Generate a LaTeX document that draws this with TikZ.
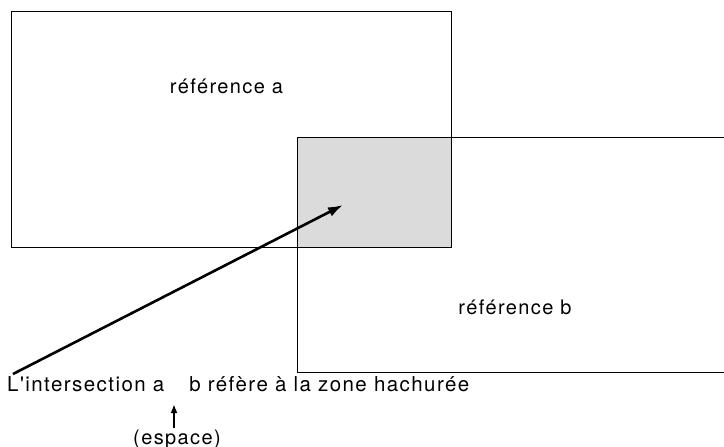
\documentclass[tikz,border=0pt]{standalone}
\usepackage{fontspec}
\setmainfont{TeX Gyre Heros}
\newfontfamily\lblfont[LetterSpace=7]{TeX Gyre Heros}
\usetikzlibrary{arrows.meta}
\begin{document}
\begin{tikzpicture}[x=1pt,y=-1pt,
  frame/.style={draw=black,line width=1pt},
  lbl/.style={font=\lblfont\fontsize{20}{22}\selectfont,inner sep=0pt},
  pointer/.style={line width=2.6pt,-{Latex[length=15pt,width=10pt]}}]
\useasboundingbox (0,0) rectangle (724,447);
\begin{scope}
\clip (0,0) rectangle (724,447);
\fill[black!14] (297,137) rectangle (451,247);
\draw[frame] (11,11) rectangle (451,247);
\draw[frame] (297,137) rectangle (760,372);
\end{scope}
\node[lbl] (ra) at (226.5,86) {référence a};
\node[lbl] (rb) at (515,307) {référence b};
\node[lbl,anchor=west,font=\lblfont\fontsize{20.5}{22}\selectfont] (txt) at (7,384) {L'intersection a\hspace{25pt}b réfère à la zone hachurée};
\node[lbl] (esp) at (177,439) {(espace)};
\coordinate (gap) at (174,404);
\coordinate (tail) at (13,374);
\coordinate (tip) at (343,205);
\draw[pointer] (tail) -- (tip);
\draw[line width=1.8pt,-{Latex[length=9pt,width=7pt]}] ([yshift=1pt]esp.north -| gap) -- (gap);
\end{tikzpicture}
\end{document}
